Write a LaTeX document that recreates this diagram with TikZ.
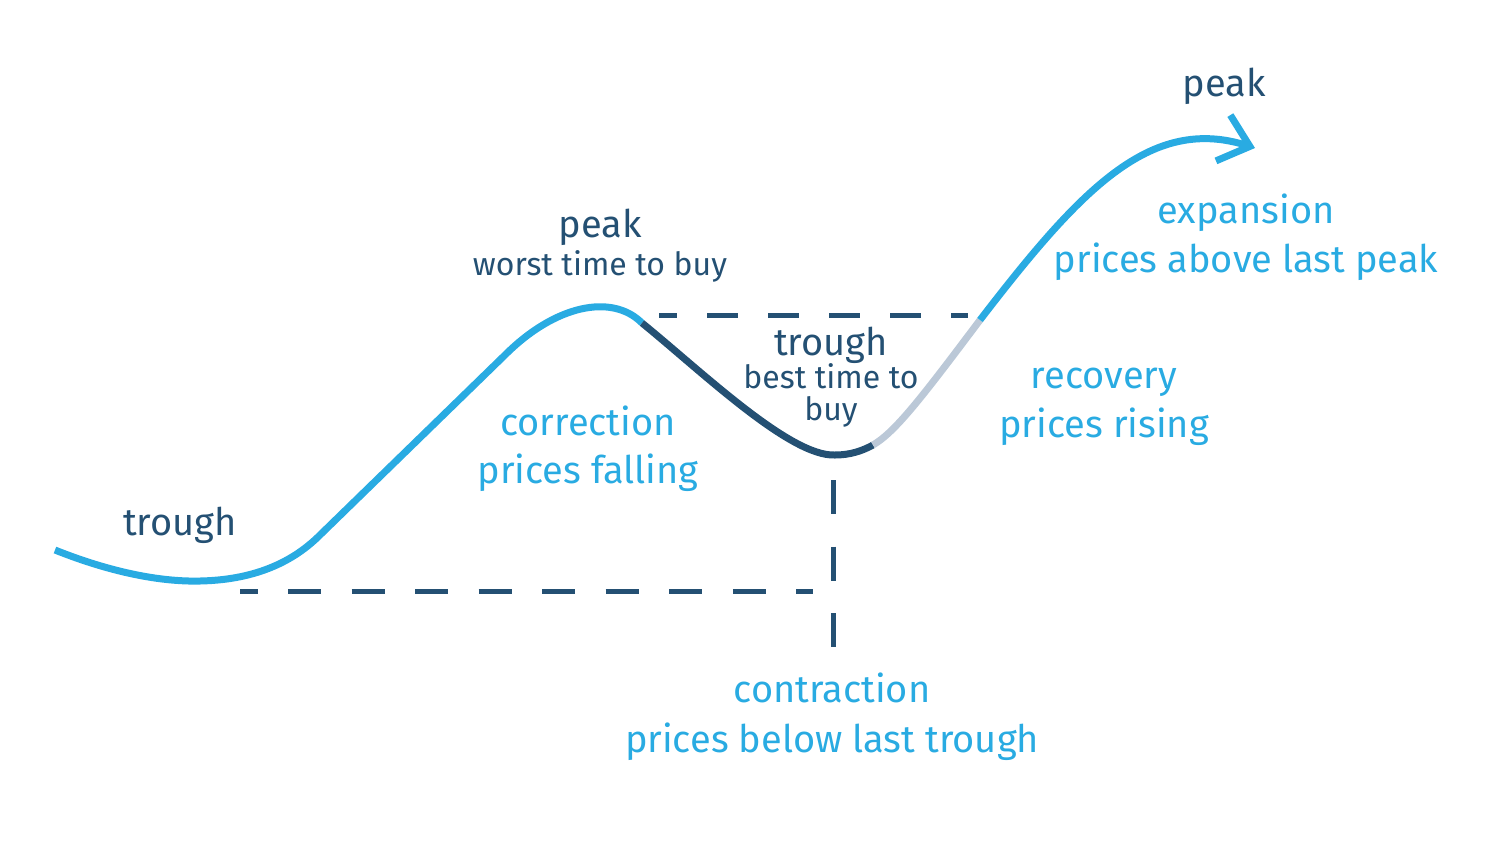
\documentclass[tikz,border=0pt]{standalone}
\usepackage{fontspec}
\setmainfont{Fira Sans}
\usetikzlibrary{arrows.meta}

\definecolor{cycleblue}{RGB}{41,171,226}
\definecolor{cyclenavy}{RGB}{36,80,115}
\definecolor{cyclegrey}{RGB}{187,200,215}

\tikzset{
  bigtext/.style={anchor=base, inner sep=0.75pt, font=\fontsize{28.5}{34}\selectfont},
  smalltext/.style={anchor=base, inner sep=0.75pt, font=\fontsize{24}{28}\selectfont},
  pricecurve/.style={line width=5.25pt},
  levelline/.style={cyclenavy, line width=3.75pt},
}

\begin{document}
\begin{tikzpicture}[x=0.75pt,y=0.75pt,yscale=-1,xscale=1]
\useasboundingbox (0,0) rectangle (1493,851);

%points on the curve
\coordinate (start) at (55,550);
\coordinate (troughA) at (200,581);
\coordinate (riseA) at (320,535);
\coordinate (topA) at (505,355);
\coordinate (fallA) at (642,323);
\coordinate (troughB) at (835,455);
\coordinate (riseB) at (873,445);
\coordinate (aboveB) at (980,320);
\coordinate (tipC) at (1255,148);

%ends of the dashed levels
\coordinate (lowL) at (240,591);
\coordinate (lowR) at (813,591);
\coordinate (highL) at (659,315);
\coordinate (highR) at (968,315);
\coordinate (downT) at (833,480);
\coordinate (downB) at (833,647);

%Dashed Lines
\draw [levelline, dash pattern=on 24.75pt off 22.9pt, dash phase=11.6pt] (lowL) -- (lowR) ;
\draw [levelline, dash pattern=on 23.25pt off 22.5pt, dash phase=9.75pt] (highL) -- (highR) ;
\draw [levelline, dash pattern=on 25.5pt off 24.4pt] (downT) -- (downB) ;

%Curve Lines
\draw [pricecurve, cycleblue] (start) .. controls (110,572) and (160,582) .. (troughA)
  .. controls (250,580) and (290,565) .. (riseA) -- (topA)
  .. controls (555,305) and (612,293) .. (fallA) ;
\draw [pricecurve, cyclenavy] (fallA) .. controls (700,370) and (790,457) .. (troughB)
  .. controls (850,455) and (862,451) .. (riseB) ;
\draw [pricecurve, cyclegrey] (riseB) .. controls (895,432) and (920,400) .. (aboveB) ;
\draw [pricecurve, cycleblue, -{Straight Barb[length=21pt, width=36pt]}] (aboveB) .. controls (1080,190) and (1150,115) .. (tipC) ;

% Text Node
\node [bigtext, text=cyclenavy] (peakR) at (1224,96) {peak};
% Text Node
\node [bigtext, text=cyclenavy] (peakM) at (600,237) {peak};
% Text Node
\node [smalltext, text=cyclenavy] (worst) at (600,275) {worst time to buy};
% Text Node
\node [bigtext, text=cyclenavy] (troughL) at (180,535) {trough};
% Text Node
\node [bigtext, text=cyclenavy] (troughM) at (831,355) {trough};
% Text Node
\node [smalltext, text=cyclenavy] (best) at (831,388) {best time to};
% Text Node
\node [smalltext, text=cyclenavy] (buy) at (831,420) {buy};
% Text Node
\node [bigtext, text=cycleblue] (correction) at (588,435) {correction};
% Text Node
\node [bigtext, text=cycleblue] (falling) at (588,483) {prices falling};
% Text Node
\node [bigtext, text=cycleblue] (expansion) at (1246,223) {expansion};
% Text Node
\node [bigtext, text=cycleblue] (abovepeak) at (1246,272) {prices above last peak};
% Text Node
\node [bigtext, text=cycleblue] (recovery) at (1104,388) {recovery};
% Text Node
\node [bigtext, text=cycleblue] (rising) at (1104,437) {prices rising};
% Text Node
\node [bigtext, text=cycleblue] (contraction) at (832,702) {contraction};
% Text Node
\node [bigtext, text=cycleblue] (belowtrough) at (832,752) {prices below last trough};

\end{tikzpicture}
\end{document}
